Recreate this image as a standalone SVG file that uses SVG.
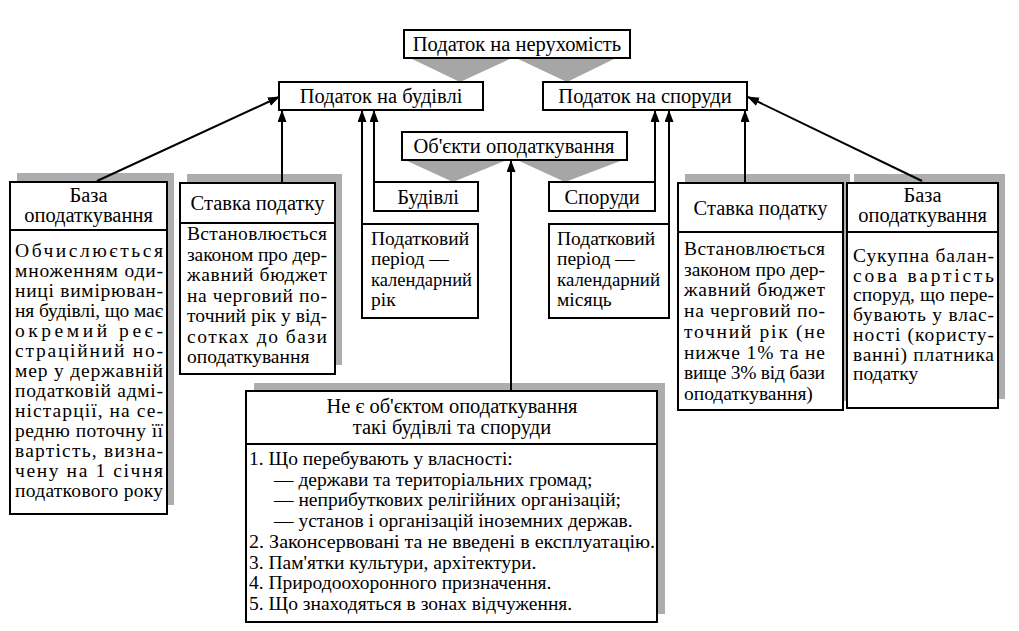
<svg xmlns="http://www.w3.org/2000/svg" width="1019" height="631" viewBox="0 0 1019 631">
<defs>
<marker id="ah" markerUnits="userSpaceOnUse" markerWidth="12" markerHeight="10" refX="11" refY="4.5" orient="auto">
<path d="M0,0 L12,4.5 L0,9 z" fill="#000"/>
</marker>
</defs>
<style>
.box{fill:#fff;stroke:#000;stroke-width:2}
.sh{fill:#adadad}
.tri{fill:#a6a6a6}
.t{font-family:"Liberation Serif","Times New Roman",serif;font-size:20.5px;fill:#000}
.b{font-family:"Liberation Serif","Times New Roman",serif;font-size:19.5px;fill:#000}
.c{text-anchor:middle}
.ln{stroke:#000;stroke-width:2;fill:none}
.ar{stroke:#000;stroke-width:2;fill:none;marker-end:url(#ah)}
</style>
<rect width="1019" height="631" fill="#fff"/>

<g id="node-root">
<polygon class="tri" points="410,58 512,58 460,82"/>
<polygon class="tri" points="516,58 616,58 567,82"/>
<rect class="box" x="404" y="30" width="226" height="28"/>
<text class="t c" x="517" y="51">Податок на нерухомість</text>
</g>

<g id="node-buildings-tax">
<rect class="box" x="279" y="82" width="204" height="28"/>
<text class="t c" x="381" y="103">Податок на будівлі</text>
</g>

<g id="node-structures-tax">
<rect class="box" x="543" y="82" width="204" height="28"/>
<text class="t c" x="645" y="103">Податок на споруди</text>
</g>

<g id="node-objects">
<polygon class="tri" points="405,160 507,160 453,182"/>
<polygon class="tri" points="517,160 623,160 565,182"/>
<rect class="box" x="402" y="132" width="225" height="28"/>
<text class="t c" x="514" y="153">Об'єкти оподаткування</text>
</g>

<g id="node-budivli">
<rect class="box" x="374" y="182" width="104" height="29"/>
<text class="t c" x="428" y="204">Будівлі</text>
</g>

<g id="node-sporudy">
<rect class="box" x="549" y="182" width="106" height="29"/>
<text class="t c" x="602" y="204">Споруди</text>
</g>

<g id="node-period-left">
<rect class="box" x="362" y="224" width="116" height="94"/>
<text class="b" x="371" y="245">Податковий</text>
<text class="b" x="371" y="265">період —</text>
<text class="b" x="371" y="286" textLength="101" lengthAdjust="spacingAndGlyphs">календарний</text>
<text class="b" x="371" y="306">рік</text>
</g>

<g id="node-period-right">
<rect class="box" x="549" y="224" width="120" height="94"/>
<text class="b" x="557" y="245">Податковий</text>
<text class="b" x="557" y="265">період —</text>
<text class="b" x="557" y="286" textLength="103" lengthAdjust="spacingAndGlyphs">календарний</text>
<text class="b" x="557" y="306">місяць</text>
</g>

<g id="node-base-left">
<rect class="sh" x="17" y="173" width="157" height="332"/>
<rect class="box" x="10" y="182" width="157" height="332"/>
<line class="ln" x1="10" y1="230" x2="167" y2="230"/>
<text class="t c" x="88.5" y="202">База</text>
<text class="t c" x="88.5" y="222">оподаткування</text>
<text class="b" x="15" y="257" textLength="148" lengthAdjust="spacing">Обчислюється</text>
<text class="b" x="15" y="277" textLength="148" lengthAdjust="spacing">множенням оди-</text>
<text class="b" x="15" y="297" textLength="148" lengthAdjust="spacing">ниці вимірюван-</text>
<text class="b" x="15" y="317" textLength="148" lengthAdjust="spacing">ня будівлі, що має</text>
<text class="b" x="15" y="337" textLength="148" lengthAdjust="spacing">окремий реє-</text>
<text class="b" x="15" y="357" textLength="148" lengthAdjust="spacing">страційний но-</text>
<text class="b" x="15" y="377" textLength="148" lengthAdjust="spacing">мер у державній</text>
<text class="b" x="15" y="397" textLength="148" lengthAdjust="spacing">податковій адмі-</text>
<text class="b" x="15" y="417" textLength="148" lengthAdjust="spacing">ністарції, на се-</text>
<text class="b" x="15" y="437" textLength="148" lengthAdjust="spacing">редню поточну її</text>
<text class="b" x="15" y="457" textLength="148" lengthAdjust="spacing">вартість, визна-</text>
<text class="b" x="15" y="477" textLength="148" lengthAdjust="spacing">чену на 1 січня</text>
<text class="b" x="15" y="497" textLength="148" lengthAdjust="spacing">податкового року</text>
</g>

<g id="node-rate-left">
<rect class="sh" x="187" y="174" width="155" height="191"/>
<rect class="box" x="180" y="183" width="155" height="191"/>
<line class="ln" x1="180" y1="223" x2="335" y2="223"/>
<text class="t c" x="257.5" y="210">Ставка податку</text>
<text class="b" x="187" y="240" textLength="140" lengthAdjust="spacing">Встановлюється</text>
<text class="b" x="187" y="260.5" textLength="140" lengthAdjust="spacing">законом про дер-</text>
<text class="b" x="187" y="281" textLength="140" lengthAdjust="spacing">жавний бюджет</text>
<text class="b" x="187" y="301.5" textLength="140" lengthAdjust="spacing">на черговий по-</text>
<text class="b" x="187" y="322" textLength="140" lengthAdjust="spacing">точний рік у від-</text>
<text class="b" x="187" y="342.5" textLength="140" lengthAdjust="spacing">сотках до бази</text>
<text class="b" x="187" y="363">оподаткування</text>
</g>

<g id="node-rate-right">
<rect class="sh" x="685" y="174" width="165" height="227"/>
<rect class="box" x="678" y="183" width="165" height="227"/>
<line class="ln" x1="678" y1="232" x2="843" y2="232"/>
<text class="t c" x="760.5" y="215">Ставка податку</text>
<text class="b" x="684" y="255" textLength="141" lengthAdjust="spacing">Встановлюється</text>
<text class="b" x="684" y="275.7" textLength="141" lengthAdjust="spacing">законом про дер-</text>
<text class="b" x="684" y="296.4" textLength="141" lengthAdjust="spacing">жавний бюджет</text>
<text class="b" x="684" y="317.1" textLength="141" lengthAdjust="spacing">на черговий по-</text>
<text class="b" x="684" y="337.8" textLength="141" lengthAdjust="spacing">точний рік (не</text>
<text class="b" x="684" y="358.5" textLength="141" lengthAdjust="spacing">нижче 1% та не</text>
<text class="b" x="684" y="379.2" textLength="141" lengthAdjust="spacing">вище 3% від бази</text>
<text class="b" x="684" y="399.9">оподаткування)</text>
</g>

<g id="node-base-right">
<rect class="sh" x="854" y="174" width="151" height="225"/>
<rect class="box" x="847" y="183" width="151" height="225"/>
<line class="ln" x1="847" y1="232" x2="998" y2="232"/>
<text class="t c" x="922.5" y="202">База</text>
<text class="t c" x="922.5" y="222">оподаткування</text>
<text class="b" x="853" y="262" textLength="141" lengthAdjust="spacing">Сукупна балан-</text>
<text class="b" x="853" y="281.7" textLength="141" lengthAdjust="spacing">сова вартість</text>
<text class="b" x="853" y="301.4" textLength="141" lengthAdjust="spacing">споруд, що пере-</text>
<text class="b" x="853" y="321.1" textLength="141" lengthAdjust="spacing">бувають у влас-</text>
<text class="b" x="853" y="340.8" textLength="141" lengthAdjust="spacing">ності (користу-</text>
<text class="b" x="853" y="360.5" textLength="141" lengthAdjust="spacing">ванні) платника</text>
<text class="b" x="853" y="380.2">податку</text>
</g>

<g id="node-exempt">
<rect class="sh" x="254" y="383" width="411" height="231"/>
<rect class="box" x="246" y="391" width="411" height="231"/>
<line class="ln" x1="246" y1="444" x2="657" y2="444"/>
<text class="t c" x="452" y="413">Не є об'єктом оподаткування</text>
<text class="t c" x="452" y="434">такі будівлі та споруди</text>
<text class="b" x="249" y="465">1. Що перебувають у власності:</text>
<text class="b" x="274" y="485.7">— держави та територіальних громад;</text>
<text class="b" x="274" y="506.4">— неприбуткових релігійних організацій;</text>
<text class="b" x="274" y="527.1">— установ і організацій іноземних держав.</text>
<text class="b" x="249" y="547.8" textLength="406" lengthAdjust="spacingAndGlyphs">2. Законсервовані та не введені в експлуатацію.</text>
<text class="b" x="249" y="568.5">3. Пам'ятки культури, архітектури.</text>
<text class="b" x="249" y="589.2">4. Природоохоронного призначення.</text>
<text class="b" x="249" y="609.9">5. Що знаходяться в зонах відчуження.</text>
</g>

<g id="connectors">
<line class="ar" x1="97" y1="181" x2="279" y2="97"/>
<line class="ar" x1="922" y1="181" x2="748" y2="97"/>
<line class="ar" x1="282" y1="183" x2="282" y2="111"/>
<line class="ar" x1="362" y1="224" x2="362" y2="111"/>
<line class="ar" x1="374" y1="211" x2="374" y2="111"/>
<line class="ar" x1="655" y1="211" x2="655" y2="111"/>
<line class="ar" x1="669" y1="224" x2="669" y2="111"/>
<line class="ar" x1="745" y1="183" x2="745" y2="111"/>
<line class="ar" x1="511" y1="391" x2="511" y2="161"/>
</g>
</svg>
